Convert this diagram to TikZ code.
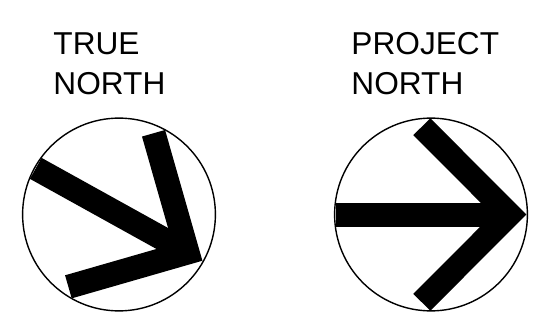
\documentclass[tikz,border=0pt]{standalone}
\usepackage{fontspec}
\setmainfont{Liberation Sans}
\usetikzlibrary{positioning}
\tikzset{
  rim/.style={circle,draw,line width=1pt,minimum size=4.82cm,inner sep=0pt},
  caption/.style={font=\fontsize{22.5}{27}\selectfont,inner sep=0pt,anchor=base west},
  % chevron arrow, pointing east before rotation
  pics/northarrow/.style={code={
    \draw[line width=0.6cm] (-2.38,0) -- (1.96,0);
    \draw[line width=0.6cm] (-0.23,2.195) -- (1.96,0) -- (-0.23,-2.195);
  }},
}
\begin{document}
\begin{tikzpicture}
  \useasboundingbox (0,0) rectangle (13.85,8.075);
  \node[caption] (tt) at (1.33,6.7) {TRUE};
  \node[caption] (tn) at (1.33,5.7) {NORTH};
  \node[caption] (pt) at (8.78,6.7) {PROJECT};
  \node[caption] (pn) at (8.78,5.7) {NORTH};
  \node[rim] (truerim) at (2.975,2.7125) {};
  \node[rim] (projrim) at (10.775,2.7125) {};
  \pic[rotate=-29] at (truerim.center) {northarrow};
  \pic at (projrim.center) {northarrow};
\end{tikzpicture}
\end{document}
